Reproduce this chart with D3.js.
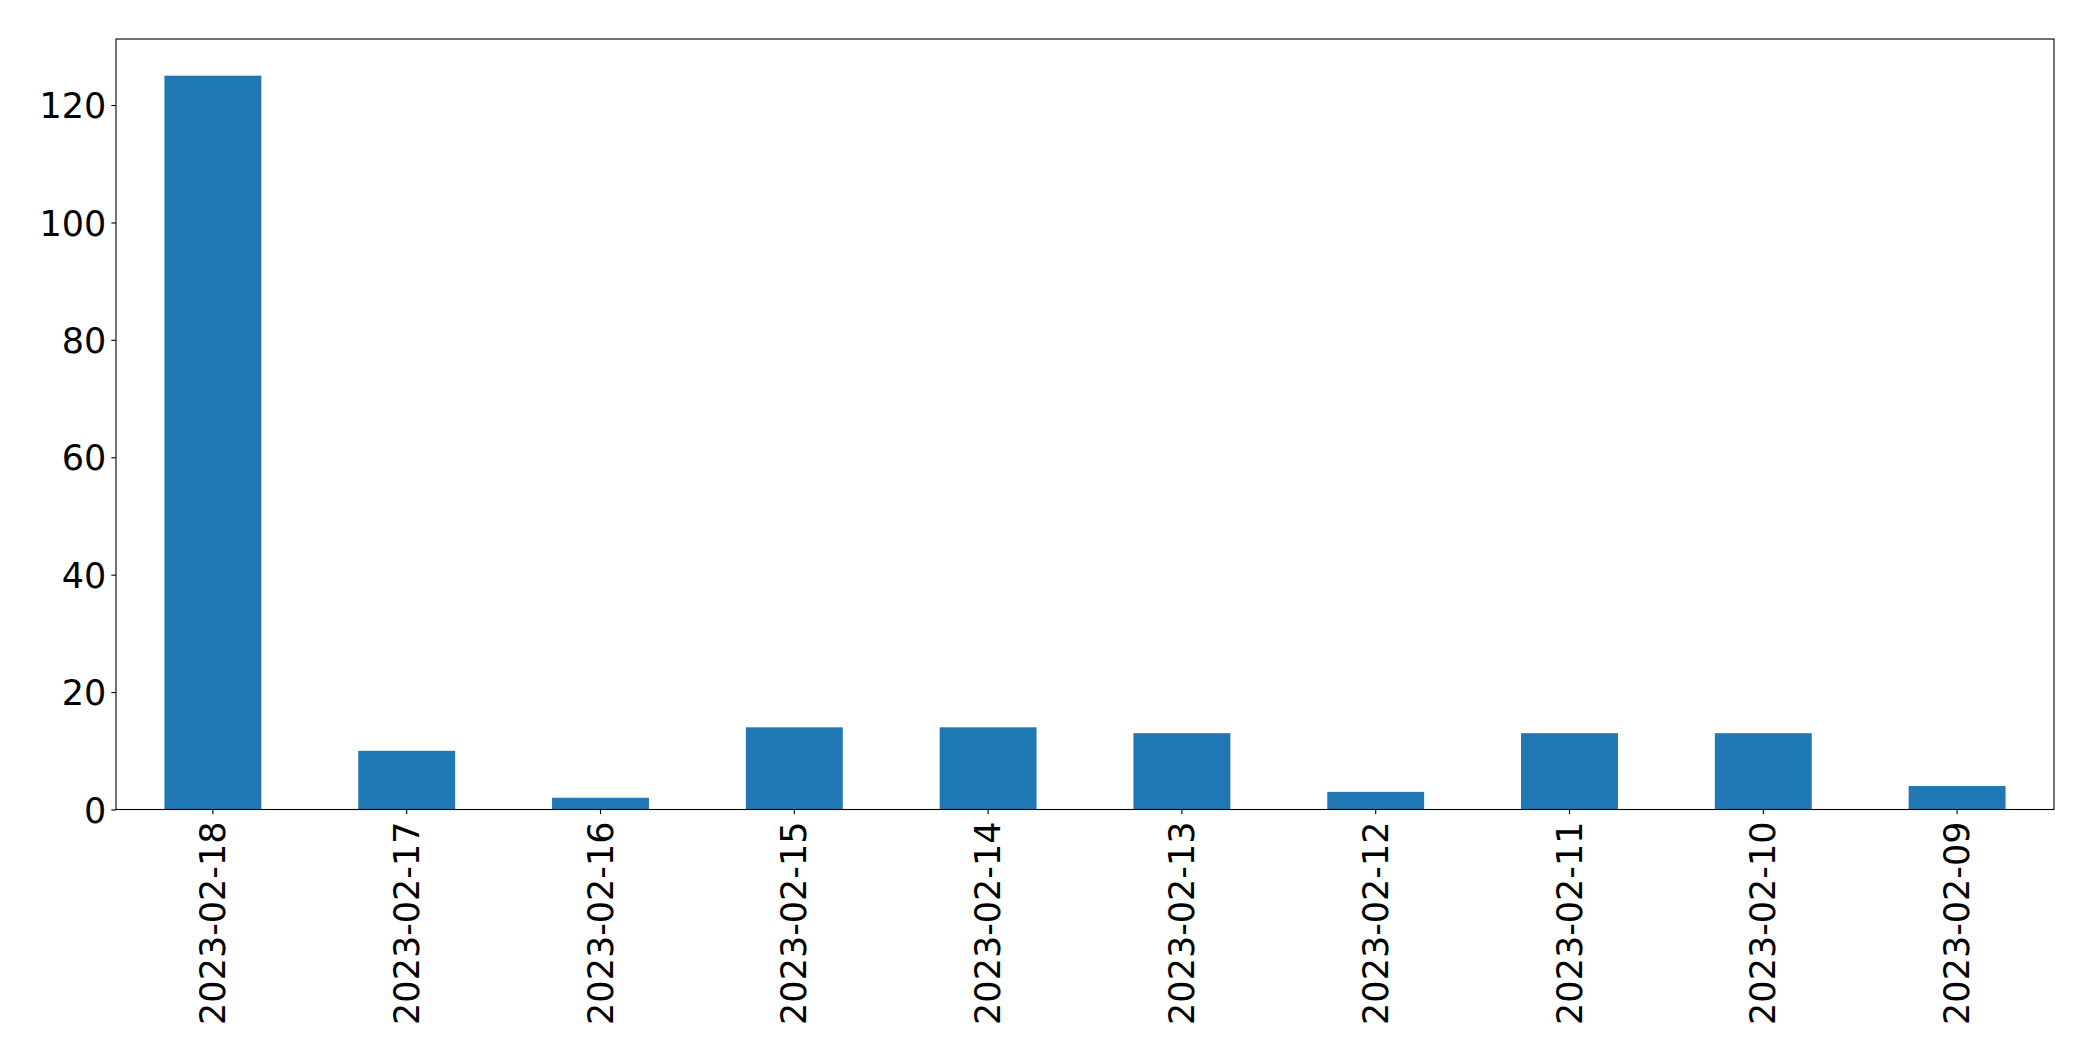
<!DOCTYPE html>
<html>
<head>
<meta charset="utf-8">
<script src="https://cdn.jsdelivr.net/npm/d3@7"></script>
<style>
  html, body { margin: 0; padding: 0; background: #fff; }
  svg { display: block; }
  text { font-family: "DejaVu Sans", sans-serif; fill: #000; }
</style>
</head>
<body>
<svg id="chart" width="2093" height="1061"></svg>
<script>
const categories = ["2023-02-18","2023-02-17","2023-02-16","2023-02-15","2023-02-14","2023-02-13","2023-02-12","2023-02-11","2023-02-10","2023-02-09"];
const values = [125, 10, 2, 14, 14, 13, 3, 13, 13, 4];
const yTicks = [0, 20, 40, 60, 80, 100, 120];

const W = 2093, H = 1061;
const margin = {left: 116, right: W - 2054, top: 39, bottom: H - 809.5};
const svg = d3.select("#chart");
const iw = W - margin.left - margin.right;
const ih = H - margin.top - margin.bottom;
const g = svg.append("g").attr("transform", `translate(${margin.left},${margin.top})`);

const x = d3.scaleBand().domain(categories).range([0, iw]).paddingInner(0.5).paddingOuter(0.25);
const y = d3.scaleLinear().domain([0, 125 * 1.05]).range([ih, 0]);

g.selectAll("rect.bar").data(values).enter().append("rect")
  .attr("class", "bar")
  .attr("x", (d, i) => x(categories[i]))
  .attr("width", x.bandwidth())
  .attr("y", d => y(d))
  .attr("height", d => ih - y(d))
  .attr("fill", "#1f77b4");

const fs = 35;
const yAxis = g.append("g").call(d3.axisLeft(y).tickValues(yTicks).tickSize(4.7).tickPadding(5));
yAxis.select(".domain").remove();
yAxis.selectAll("text").style("font-size", fs + "px").attr("dy", "0.36em");
yAxis.selectAll("line").attr("stroke", "#000").attr("stroke-width", 1.1);

const xAxis = g.append("g").attr("transform", `translate(0,${ih})`)
  .call(d3.axisBottom(x).tickSize(4.7).tickPadding(0));
xAxis.select(".domain").remove();
xAxis.selectAll("line").attr("stroke", "#000").attr("stroke-width", 1.1);
xAxis.selectAll("text")
  .style("font-size", fs + "px")
  .attr("text-anchor", "end")
  .attr("dy", null)
  .attr("dominant-baseline", "central")
  .attr("transform", "translate(0,12) rotate(-90)")
  .attr("x", 0).attr("y", 0);

g.append("rect").attr("x", 0).attr("y", 0).attr("width", iw).attr("height", ih)
  .attr("fill", "none").attr("stroke", "#000").attr("stroke-width", 1.1);
</script>
</body>
</html>
